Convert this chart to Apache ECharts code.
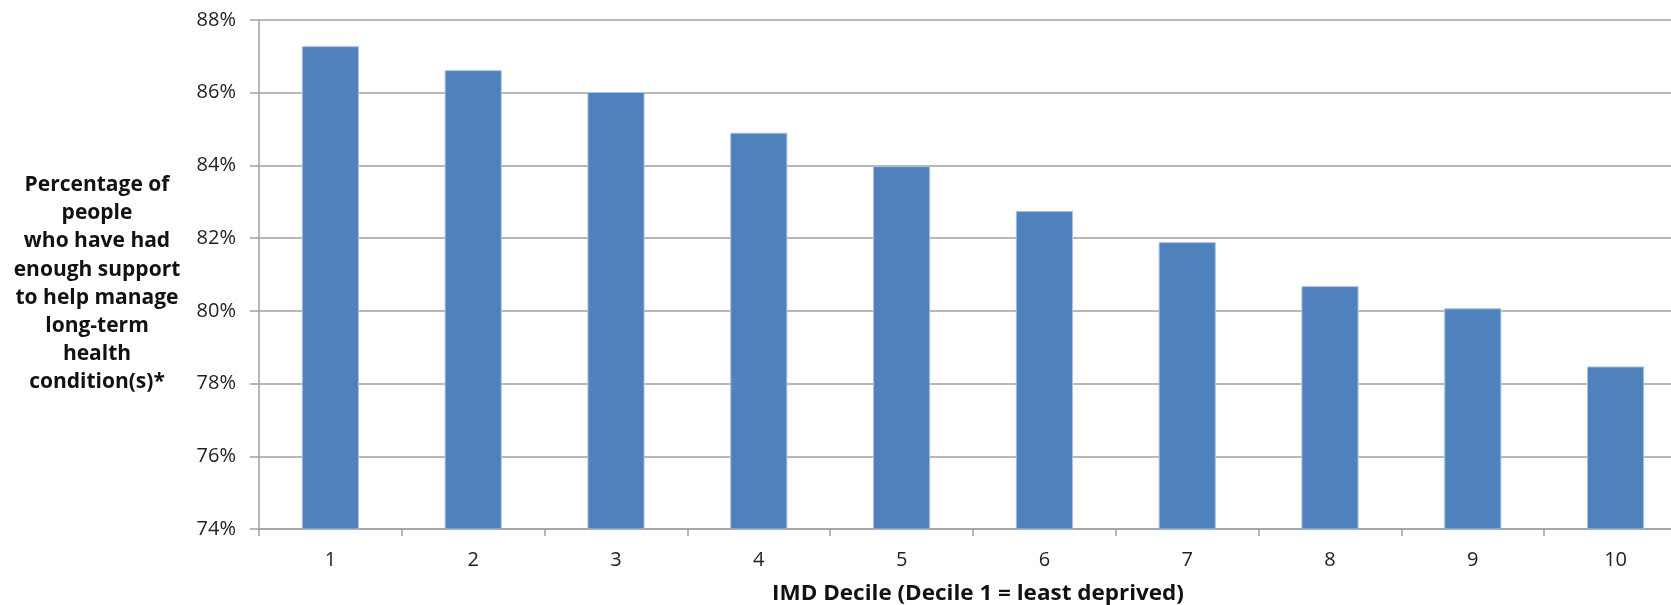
<!DOCTYPE html>
<html>
<head>
<meta charset="utf-8">
<script src="https://cdn.jsdelivr.net/npm/echarts@6/dist/echarts.min.js"></script>
<style>
html,body{margin:0;padding:0;background:#fff;overflow:hidden;}
#chart{width:1700px;height:605px;}
</style>
</head>
<body>
<div id="chart"></div>
<script>
const categories = ['1','2','3','4','5','6','7','8','9','10'];
const values = [87.28, 86.62, 86.02, 84.90, 83.98, 82.75, 81.89, 80.68, 80.07, 78.47];
const yTitleLines = ['Percentage of','people','who have had','enough support','to help manage','long-term','health','condition(s)*'];
const xTitle = 'IMD Decile (Decile 1 = least deprived)';

const FONT = 'Open Sans';
const chart = echarts.init(document.getElementById('chart'), null, {renderer:'canvas'});

const titleGraphics = yTitleLines.map((t, i) => ({
  type: 'text', z: 10,
  x: 97, y: 185 + i * 28.2,
  style: {
    text: t, fontSize: 21, fontWeight: 'bold', fontFamily: FONT,
    fill: '#111', align: 'center', verticalAlign: 'middle'
  }
}));
titleGraphics.push({
  type: 'text', z: 10,
  x: 978, y: 594,
  scaleX: 1.07,
  style: {
    text: xTitle, fontSize: 21, fontWeight: 'bold', fontFamily: FONT,
    fill: '#111', align: 'center', verticalAlign: 'middle'
  }
});

chart.setOption({
  animation: false,
  backgroundColor: '#fff',
  grid: {left: 259, top: 20, bottom: 76, right: 13, containLabel: false},
  xAxis: {
    type: 'category',
    data: categories,
    boundaryGap: true,
    axisLine: {lineStyle: {color: '#a0a0a0', width: 1.5}},
    axisTick: {show: true, alignWithLabel: false, length: 7, lineStyle: {color: '#a0a0a0', width: 1.5}},
    axisLabel: {color: '#222', fontSize: 20, fontFamily: FONT, margin: 21}
  },
  yAxis: {
    type: 'value',
    min: 74, max: 88, interval: 2,
    axisLine: {show: true, lineStyle: {color: '#a0a0a0', width: 1.5}},
    axisTick: {show: true, inside: false, length: 9, lineStyle: {color: '#a0a0a0', width: 1.5}},
    splitLine: {lineStyle: {color: '#a0a0a0', width: 1.5}},
    axisLabel: {color: '#222', fontSize: 20, fontFamily: FONT, margin: 23, formatter: v => v + '%'}
  },
  series: [{
    type: 'bar',
    data: values,
    barWidth: '40%',
    itemStyle: {color: '#4f81bd', borderColor: '#a9c0de', borderWidth: 1}
  }],
  graphic: titleGraphics
});
</script>
</body>
</html>
